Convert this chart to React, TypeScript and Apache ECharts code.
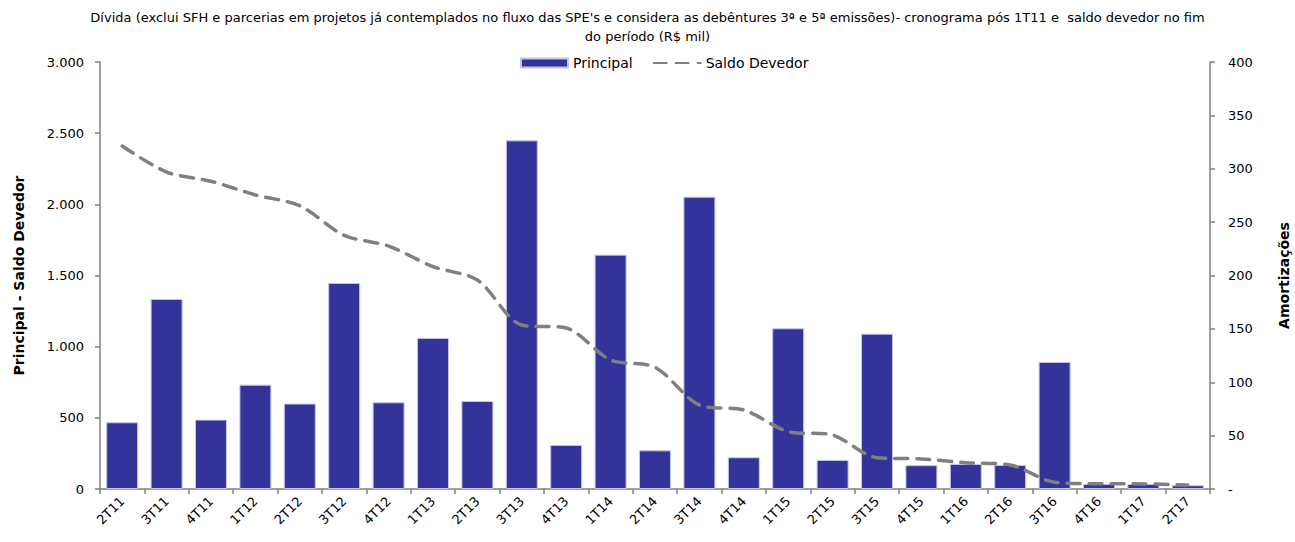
import React, { useEffect, useRef } from "react";
import * as echarts from "echarts";

const categories = ["2T11","3T11","4T11","1T12","2T12","3T12","4T12","1T13","2T13","3T13","4T13","1T14","2T14","3T14","4T14","1T15","2T15","3T15","4T15","1T16","2T16","3T16","4T16","1T17","2T17"];
const principal = [62.5,178,65,97.7,80,193,81.2,141.5,82.4,326.6,41.2,219.5,36.2,273.8,29.7,150.5,27.2,145.5,22.3,23.4,22.5,119,4.7,4.7,3.5];
const saldoDevedor = [2410,2227,2162,2066,1990,1782,1707,1562,1468,1152,1131,906,855,590,555,403,379,220,211,185,169,48,37,36,28];

const titleLines = [
  "Dívida (exclui SFH e parcerias em projetos já contemplados no fluxo das SPE's e considera as debêntures 3ª e 5ª emissões)- cronograma pós 1T11 e  saldo devedor no fim",
  "do período (R$ mil)",
];
const font = "DejaVu Sans";

export default function App() {
  const ref = useRef<HTMLDivElement>(null);
  useEffect(() => {
    if (!ref.current) return;
    const chart = echarts.init(ref.current, null, { renderer: "svg" });
    chart.setOption({
      animation: false,
      textStyle: { fontFamily: font, color: "#000" },
      title: {
        text: titleLines.join("\n"),
        left: "center",
        top: 3,
        textStyle: { fontFamily: font, fontSize: 13, fontWeight: "normal", color: "#000", lineHeight: 19 },
      },
      legend: {
        top: 51,
        left: 515,
        itemWidth: 47,
        itemHeight: 9,
        itemGap: 20,
        textStyle: { fontFamily: font, fontSize: 14, color: "#000" },
        data: [
          { name: "Principal", icon: "rect" },
          { name: "Saldo Devedor", itemStyle: { opacity: 0 } },
        ],
      },
      grid: { left: 100, right: 85, top: 62, bottom: 53, containLabel: false, outerBoundsMode: "none" },
      xAxis: {
        type: "category",
        data: categories,
        axisLine: { lineStyle: { color: "#808080", width: 1.5 } },
        axisTick: { show: true, length: 5, lineStyle: { color: "#808080", width: 1.5 } },
        axisLabel: { rotate: 45, fontFamily: font, fontSize: 13, color: "#000", margin: 10, interval: 0 },
      },
      yAxis: [
        {
          type: "value",
          min: 0,
          max: 3000,
          interval: 500,
          position: "left",
          name: "Principal - Saldo Devedor",
          nameLocation: "middle",
          nameGap: 74,
          nameTextStyle: { fontFamily: font, fontSize: 14, fontWeight: "bold", color: "#000" },
          axisLine: { show: true, lineStyle: { color: "#808080", width: 1.5 } },
          axisTick: { show: true, length: 5, lineStyle: { color: "#808080", width: 1.5 } },
          splitLine: { show: false },
          axisLabel: {
            fontFamily: font,
            fontSize: 13,
            color: "#000",
            margin: 16,
            formatter: (v: number) => v.toLocaleString("de-DE"),
          },
        },
        {
          type: "value",
          min: 0,
          max: 400,
          interval: 50,
          position: "right",
          name: "Amortizações",
          nameLocation: "middle",
          nameGap: 67,
          nameTextStyle: { fontFamily: font, fontSize: 14, fontWeight: "bold", color: "#000" },
          axisLine: { show: true, lineStyle: { color: "#808080", width: 1.5 } },
          axisTick: { show: true, length: 5, lineStyle: { color: "#808080", width: 1.5 } },
          splitLine: { show: false },
          axisLabel: {
            fontFamily: font,
            fontSize: 13,
            color: "#000",
            margin: 18,
            formatter: (v: number) => (v === 0 ? "-" : String(v)),
          },
        },
      ],
      series: [
        {
          name: "Principal",
          type: "bar",
          yAxisIndex: 1,
          data: principal,
          barCategoryGap: "28%",
          itemStyle: { color: "#333399", borderColor: "#c4c4e6", borderWidth: 1 },
        },
        {
          name: "Saldo Devedor",
          type: "line",
          yAxisIndex: 0,
          data: saldoDevedor,
          smooth: 0.3,
          symbol: "none",
          lineStyle: { color: "#808080", width: 3.5, type: [13, 9], cap: "round" },
          itemStyle: { color: "#808080" },
        },
      ],
    });
    return () => chart.dispose();
  }, []);
  return <div ref={ref} style={{ position: "absolute", left: 0, top: 0, width: 1295, height: 542 }} />;
}
